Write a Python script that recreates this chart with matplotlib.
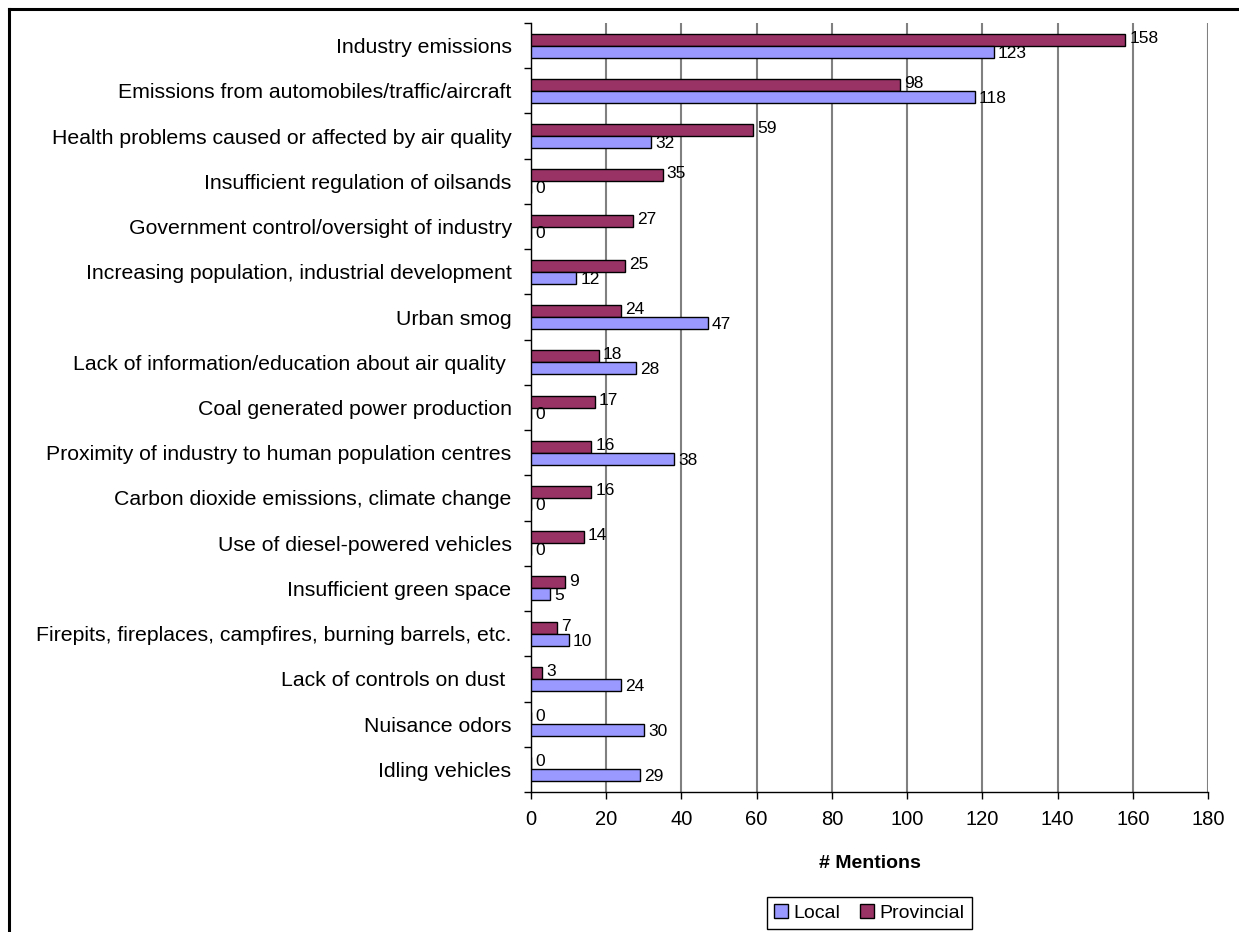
import numpy as np
import matplotlib.pyplot as plt
from matplotlib.lines import Line2D

# data, top to bottom
categories = ['Industry emissions',
              'Emissions from automobiles/traffic/aircraft',
              'Health problems caused or affected by air quality',
              'Insufficient regulation of oilsands',
              'Government control/oversight of industry',
              'Increasing population, industrial development',
              'Urban smog',
              'Lack of information/education about air quality ',
              'Coal generated power production',
              'Proximity of industry to human population centres',
              'Carbon dioxide emissions, climate change',
              'Use of diesel-powered vehicles',
              'Insufficient green space',
              'Firepits, fireplaces, campfires, burning barrels, etc.',
              'Lack of controls on dust ',
              'Nuisance odors',
              'Idling vehicles']
provincial = [158, 98, 59, 35, 27, 25, 24, 18, 17, 16, 16, 14, 9, 7, 3, 0, 0]
local = [123, 118, 32, 0, 0, 12, 47, 28, 0, 38, 0, 0, 5, 10, 24, 30, 29]
xticks = [0, 20, 40, 60, 80, 100, 120, 140, 160, 180]

plt.rcParams['font.family'] = ['Liberation Sans', 'DejaVu Sans']

fig = plt.figure(figsize=(12.39, 9.32), dpi=100)
ax = fig.add_axes([531/1239, 1-792/932, (1208-531)/1239, (792-23)/932])

y = np.arange(len(categories))
h = 0.265
bp = ax.barh(y - h/2, provincial, height=h, color='#993366', edgecolor='black', linewidth=1, label='Provincial', zorder=3)
bl = ax.barh(y + h/2, local, height=h, color='#9999FF', edgecolor='black', linewidth=1, label='Local', zorder=3)

for yy, v in zip(y - h/2, provincial):
    ax.annotate(str(v), (v, yy), xytext=(3, 1), textcoords='offset points', va='center', ha='left', fontsize=12.5)
for yy, v in zip(y + h/2, local):
    ax.annotate(str(v), (v, yy), xytext=(3, -1), textcoords='offset points', va='center', ha='left', fontsize=12.5)

ax.set_xlim(0, 180)
ax.set_ylim(len(categories) - 0.5, -0.5)
ax.set_xticks(xticks)
ax.set_xticklabels([str(t) for t in xticks], fontsize=14.5)
ax.set_yticks(y)
ax.set_yticklabels(categories, fontsize=15.3)
ax.set_yticks(np.arange(len(categories) + 1) - 0.5, minor=True)
ax.tick_params(axis='y', which='major', length=0, pad=14)
ax.tick_params(axis='y', which='minor', length=5, direction='out', width=1)
ax.tick_params(axis='x', length=5, direction='out', width=1, pad=8)
ax.xaxis.grid(True, color='#808080', linewidth=1.5, zorder=0)
ax.set_axisbelow(True)
for s in ['top', 'right']:
    ax.spines[s].set_visible(False)
ax.spines['left'].set_linewidth(1)
ax.spines['bottom'].set_linewidth(1)

ax.set_xlabel('# Mentions', fontsize=14, fontweight='bold', labelpad=19)

leg = ax.legend(handles=[bl, bp], loc='upper center', bbox_to_anchor=(0.5, -0.136), ncol=2,
                fontsize=14, frameon=True, fancybox=False, edgecolor='black', framealpha=1,
                handlelength=0.7, handleheight=0.7, handletextpad=0.3, columnspacing=1.0,
                borderpad=0.38, borderaxespad=0)
leg.get_frame().set_linewidth(1)

# outer frame, cut off by the page edge on the right and bottom
fig.add_artist(Line2D([8.5/1239, 8.5/1239], [0, 1-8.5/932], color='black', linewidth=2.2, transform=fig.transFigure))
fig.add_artist(Line2D([8.5/1239, 1], [1-8.5/932, 1-8.5/932], color='black', linewidth=2.2, transform=fig.transFigure))

fig.savefig('out.png', dpi=100)
